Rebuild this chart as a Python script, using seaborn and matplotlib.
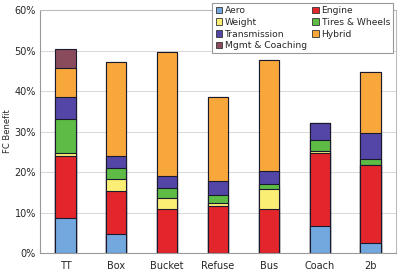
"""
Stacked fuel consumption benefit by vehicle type
"""

import numpy as np
import pandas as pd
import matplotlib
matplotlib.use('Agg')
import matplotlib.pyplot as plt
import seaborn as sns
from matplotlib.patches import Patch
from matplotlib.ticker import PercentFormatter

# Categories and series (percent)
vehicles = ['TT', 'Box', 'Bucket', 'Refuse', 'Bus', 'Coach', '2b']
aero = [8.7, 4.7, 0.0, 0.0, 0.0, 6.7, 2.4]
engine = [15.3, 10.6, 10.9, 11.6, 10.9, 17.9, 19.3]
weight = [0.6, 3.1, 2.8, 0.7, 4.8, 0.7, 0.0]
tires = [8.6, 2.5, 2.3, 2.0, 1.3, 2.6, 1.5]
transmission = [5.4, 3.1, 3.1, 3.5, 3.2, 4.3, 6.5]
hybrid = [7.2, 23.2, 30.6, 20.8, 27.6, 0.0, 15.1]
mgmt = [4.7, 0.0, 0.0, 0.0, 0.0, 0.0, 0.0]

series = [
    ('Aero', aero, '#72a8de'),
    ('Engine', engine, '#e3262b'),
    ('Weight', weight, '#fbee74'),
    ('Tires & Wheels', tires, '#5dbb46'),
    ('Transmission', transmission, '#5446a6'),
    ('Hybrid', hybrid, '#f8a73b'),
    ('Mgmt & Coaching', mgmt, '#8a4b5c'),
]

df = pd.DataFrame({'vehicle': vehicles})
running = np.zeros(len(vehicles))
cum_cols = []
for name, vals, color in series:
    running = running + np.array(vals)
    df[name] = running.copy()
    cum_cols.append((name, color))

sns.set_style('white')
plt.rcParams['font.family'] = ['DejaVu Sans']

fig = plt.figure(figsize=(4.0, 2.73), dpi=100)
ax = fig.add_axes([0.1, 0.073, 0.89, 0.89])

# Draw cumulative totals from the top layer down so lower layers overlay
for name, color in reversed(cum_cols):
    sns.barplot(data=df, x='vehicle', y=name, color=color, width=0.4,
                edgecolor='#1a1a2e', linewidth=0.8, saturation=1, ax=ax)

ax.set_ylim(0, 60)
ax.set_xlim(-0.5, len(vehicles) - 0.5)
ax.set_yticks(np.arange(0, 61, 10))
ax.yaxis.set_major_formatter(PercentFormatter(decimals=0))
ax.grid(axis='y', color='#d8d8d8', linewidth=0.7)
ax.set_axisbelow(True)
ax.set_xlabel('')
ax.set_ylabel('FC Benefit', fontsize=6, labelpad=2)
ax.tick_params(axis='both', labelsize=7, length=0, pad=3)
ax.tick_params(axis='x', pad=6)
for side, sp in ax.spines.items():
    sp.set_color('#bbbbbb')
    sp.set_linewidth(0.8)
ax.spines['left'].set_color('#999999')
ax.spines['bottom'].set_color('#999999')

# Legend, row-wise order in two columns
lookup = {name: color for name, vals, color in series}
order = ['Aero', 'Weight', 'Transmission', 'Mgmt & Coaching',
         'Engine', 'Tires & Wheels', 'Hybrid']
handles = [Patch(facecolor=lookup[n], edgecolor='#333333', linewidth=0.6, label=n)
           for n in order]
leg = ax.legend(handles=handles, ncol=2, loc='upper right',
                bbox_to_anchor=(0.992, 1.03), borderaxespad=0,
                fontsize=6.6, frameon=True,
                fancybox=False, edgecolor='#999999', framealpha=1,
                handlelength=0.7, handleheight=0.7, handletextpad=0.3,
                columnspacing=0.6, labelspacing=0.3, borderpad=0.35)
leg.get_frame().set_linewidth(0.8)

fig.savefig('out.png', dpi=100)
